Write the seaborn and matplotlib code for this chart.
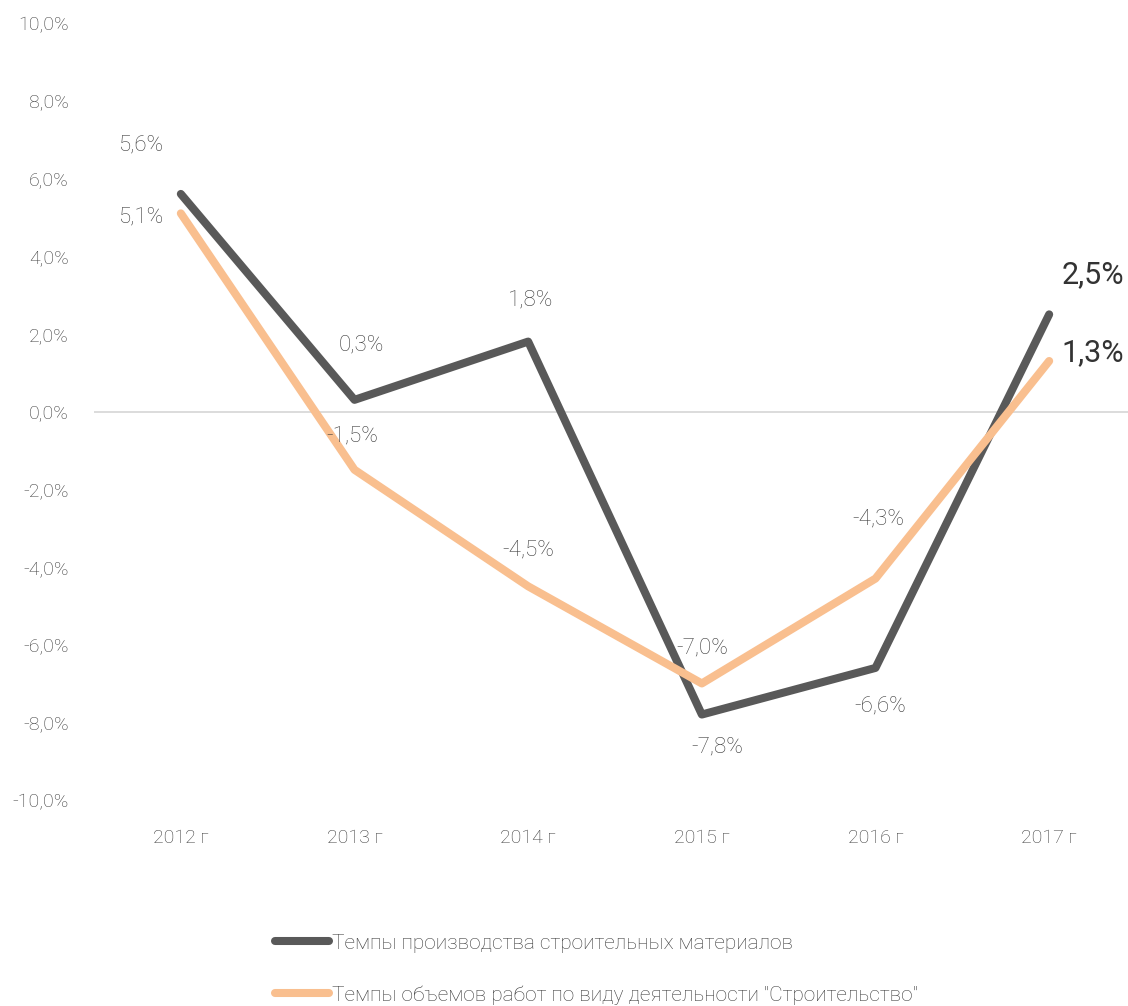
import matplotlib
matplotlib.use("Agg")
import matplotlib.pyplot as plt
import seaborn as sns
import pandas as pd
from matplotlib.ticker import FuncFormatter

years = ["2012 г", "2013 г", "2014 г", "2015 г", "2016 г", "2017 г"]
materials = [5.6, 0.3, 1.8, -7.8, -6.6, 2.5]
construction = [5.1, -1.5, -4.5, -7.0, -4.3, 1.3]
series_names = ["Темпы производства строительных материалов",
                'Темпы объемов работ по виду деятельности "Строительство"']
y_ticks = [-10, -8, -6, -4, -2, 0, 2, 4, 6, 8, 10]

sns.set_theme(style="white")
plt.rcParams['font.family'] = ['Roboto', 'DejaVu Sans']

df = pd.DataFrame({
    "year": years * 2,
    "x": list(range(len(years))) * 2,
    "value": materials + construction,
    "series": [series_names[0]] * len(years) + [series_names[1]] * len(years),
})

dark = "#595959"
orange = "#F9BF8F"
txt = "#3c3c3c"

fig = plt.figure(figsize=(11.28, 10.06), dpi=100)
ax = fig.add_axes([94 / 1128, 1 - 800 / 1006, (1136 - 94) / 1128, (800 - 23) / 1006])

ax.axhline(0, color="#D9D9D9", lw=1.3, zorder=1)
sns.lineplot(data=df, x="x", y="value", hue="series",
             palette=[dark, orange], linewidth=5.8, ax=ax, legend=True,
             solid_capstyle="round", zorder=3)

ax.set_xlim(-0.5, 5.5)
ax.set_ylim(-10, 10)
ax.set_xticks(range(len(years)))
ax.set_xticklabels(years)
ax.set_yticks(y_ticks)
ax.yaxis.set_major_formatter(FuncFormatter(lambda v, p: f"{v:.1f}%".replace(".", ",")))
ax.tick_params(axis="both", length=0, labelsize=14, colors=txt)
ax.tick_params(axis="y", pad=18)
ax.tick_params(axis="x", pad=21)
ax.set_xlabel("")
ax.set_ylabel("")
for s in ax.spines.values():
    s.set_visible(False)
for lab in ax.get_xticklabels() + ax.get_yticklabels():
    lab.set_fontweight("light")

def fmt(v):
    return f"{v:.1f}%".replace(".", ",")

mat_off = [(-40, 49), (7, 55), (2, 42), (15, -32), (5, -38), (44, 40)]
con_off = [(-40, -4), (-2, 34), (0, 36), (0, 35), (3, 60), (44, 8)]
for i, (v, o) in enumerate(zip(materials, mat_off)):
    big = i == len(materials) - 1
    ax.annotate(fmt(v), (i, v), xytext=o, textcoords="offset pixels",
                ha="center", va="center", color="#333333" if big else txt,
                fontsize=22 if big else 16, fontweight="normal" if big else "light", zorder=5)
for i, (v, o) in enumerate(zip(construction, con_off)):
    big = i == len(construction) - 1
    ax.annotate(fmt(v), (i, v), xytext=o, textcoords="offset pixels",
                ha="center", va="center", color="#333333" if big else txt,
                fontsize=22 if big else 16, fontweight="normal" if big else "light", zorder=5)

handles, labels = ax.get_legend_handles_labels()
ax.legend_.remove()
for h in handles:
    h.set_solid_capstyle("round")
leg = fig.legend(handles, labels, loc="upper left", bbox_to_anchor=(256 / 1128, 1 - 915 / 1006),
                 frameon=False, fontsize=15, handlelength=2.6, handletextpad=0.15,
                 labelspacing=1.55, labelcolor=txt)
for t in leg.get_texts():
    t.set_fontweight("light")

fig.savefig("out.png", dpi=100)
